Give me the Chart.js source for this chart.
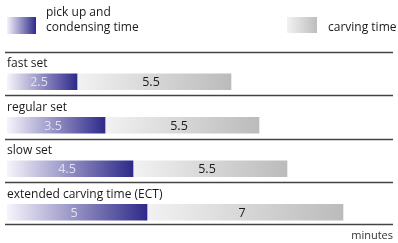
<!DOCTYPE html>
<html>
<head>
<meta charset="utf-8">
<script src="https://cdn.jsdelivr.net/npm/chart.js@4/dist/chart.umd.min.js"></script>
<style>
  html, body { margin: 0; padding: 0; background: #fff; }
  #wrap { width: 398px; height: 243px; }
</style>
</head>
<body>
<div id="wrap"><canvas id="setChart" width="398" height="243"></canvas></div>
<script>
// datos del gráfico
const categories = ['fast set', 'regular set', 'slow set', 'extended carving time (ECT)'];
const pickupTimes = [2.5, 3.5, 4.5, 5];
const carvingTimes = [5.5, 5.5, 5.5, 7];
const seriesNames = [['pick up and', 'condensing time'], ['carving time']];
const axisUnit = 'minutes';

const FONT = '"Open Sans", "DejaVu Sans", sans-serif';

// gradiente horizontal para cada segmento de barra
function makeGradient(c, x0, x1, from, to) {
    const g = c.createLinearGradient(x0, 0, x1, 0);
    g.addColorStop(0, from);
    g.addColorStop(1, to);
    return g;
}

function segmentFill(from, to, startOf) {
    return function(context) {
        const chart = context.chart;
        if (!chart.chartArea) return to;
        const x = chart.scales.x;
        const i = context.dataIndex;
        const start = startOf(i);
        const end = start + context.dataset.data[i];
        return makeGradient(chart.ctx, x.getPixelForValue(start), x.getPixelForValue(end), from, to);
    };
}

const decorPlugin = {
    id: 'decor',
    afterDatasetsDraw(chart) {
        const c = chart.ctx;
        const yScale = chart.scales.y;
        const meta0 = chart.getDatasetMeta(0);
        const meta1 = chart.getDatasetMeta(1);
        c.save();

        // separadores
        c.strokeStyle = '#444';
        c.lineWidth = 1.6;
        const lineYs = categories.map((_, i) => yScale.getPixelForValue(i) - 30);
        lineYs.push(yScale.getPixelForValue(categories.length - 1) + 12);
        lineYs.forEach(y => {
            c.beginPath();
            c.moveTo(5, Math.round(y) + 0.5);
            c.lineTo(393, Math.round(y) + 0.5);
            c.stroke();
        });

        // nombres de categoría
        c.font = '12px ' + FONT;
        c.fillStyle = '#1a1a1a';
        c.textBaseline = 'middle';
        c.textAlign = 'left';
        categories.forEach((name, i) => {
            c.fillText(name, 7, yScale.getPixelForValue(i) - 18);
        });

        // valores dentro de las barras
        c.textAlign = 'center';
        c.font = '12.5px ' + FONT;
        meta0.data.forEach((bar, i) => {
            c.fillStyle = '#e4e0f4';
            c.fillText(String(pickupTimes[i]), (bar.x + bar.base) / 2 - 3, bar.y + 1);
        });
        meta1.data.forEach((bar, i) => {
            c.fillStyle = '#1a1a1a';
            c.fillText(String(carvingTimes[i]), (bar.x + bar.base) / 2 - 3, bar.y + 1);
        });

        // leyenda
        c.fillStyle = makeGradient(c, 7, 36, '#f4f2fa', '#2e2a8a');
        c.fillRect(7, 17, 29, 17);
        c.fillStyle = makeGradient(c, 287, 317, '#f2f2f2', '#bdbdbd');
        c.fillRect(287, 17, 30, 16);
        c.textAlign = 'left';
        c.font = '12px ' + FONT;
        c.fillStyle = '#1a1a1a';
        c.fillText(seriesNames[0][0], 46, 13);
        c.fillText(seriesNames[0][1], 46, 28);
        c.fillText(seriesNames[1][0], 328, 28);

        // unidad
        c.textAlign = 'right';
        c.font = '11px ' + FONT;
        c.fillStyle = '#333';
        c.fillText(axisUnit, 393, 236);
        c.restore();
    }
};

const ctx = document.getElementById('setChart').getContext('2d');
const setChart = new Chart(ctx, {
    type: 'bar',
    data: {
        labels: categories,
        datasets: [{
            label: seriesNames[0].join(' '),
            data: pickupTimes,
            backgroundColor: segmentFill('#f6f4fb', '#2e2a8a', () => 0),
            borderWidth: 0,
            barThickness: 16
        }, {
            label: seriesNames[1].join(' '),
            data: carvingTimes,
            backgroundColor: segmentFill('#f2f2f2', '#bbbbbb', i => pickupTimes[i]),
            borderWidth: 0,
            barThickness: 16
        }]
    },
    options: {
        indexAxis: 'y',
        responsive: false,
        animation: false,
        layout: { padding: { left: 7, right: 13, top: 60, bottom: 9 } },
        scales: {
            x: { stacked: true, min: 0, max: 13.5, display: false },
            y: { stacked: true, display: false }
        },
        plugins: {
            legend: { display: false },
            tooltip: { enabled: false }
        }
    },
    plugins: [decorPlugin]
});
</script>
</body>
</html>
